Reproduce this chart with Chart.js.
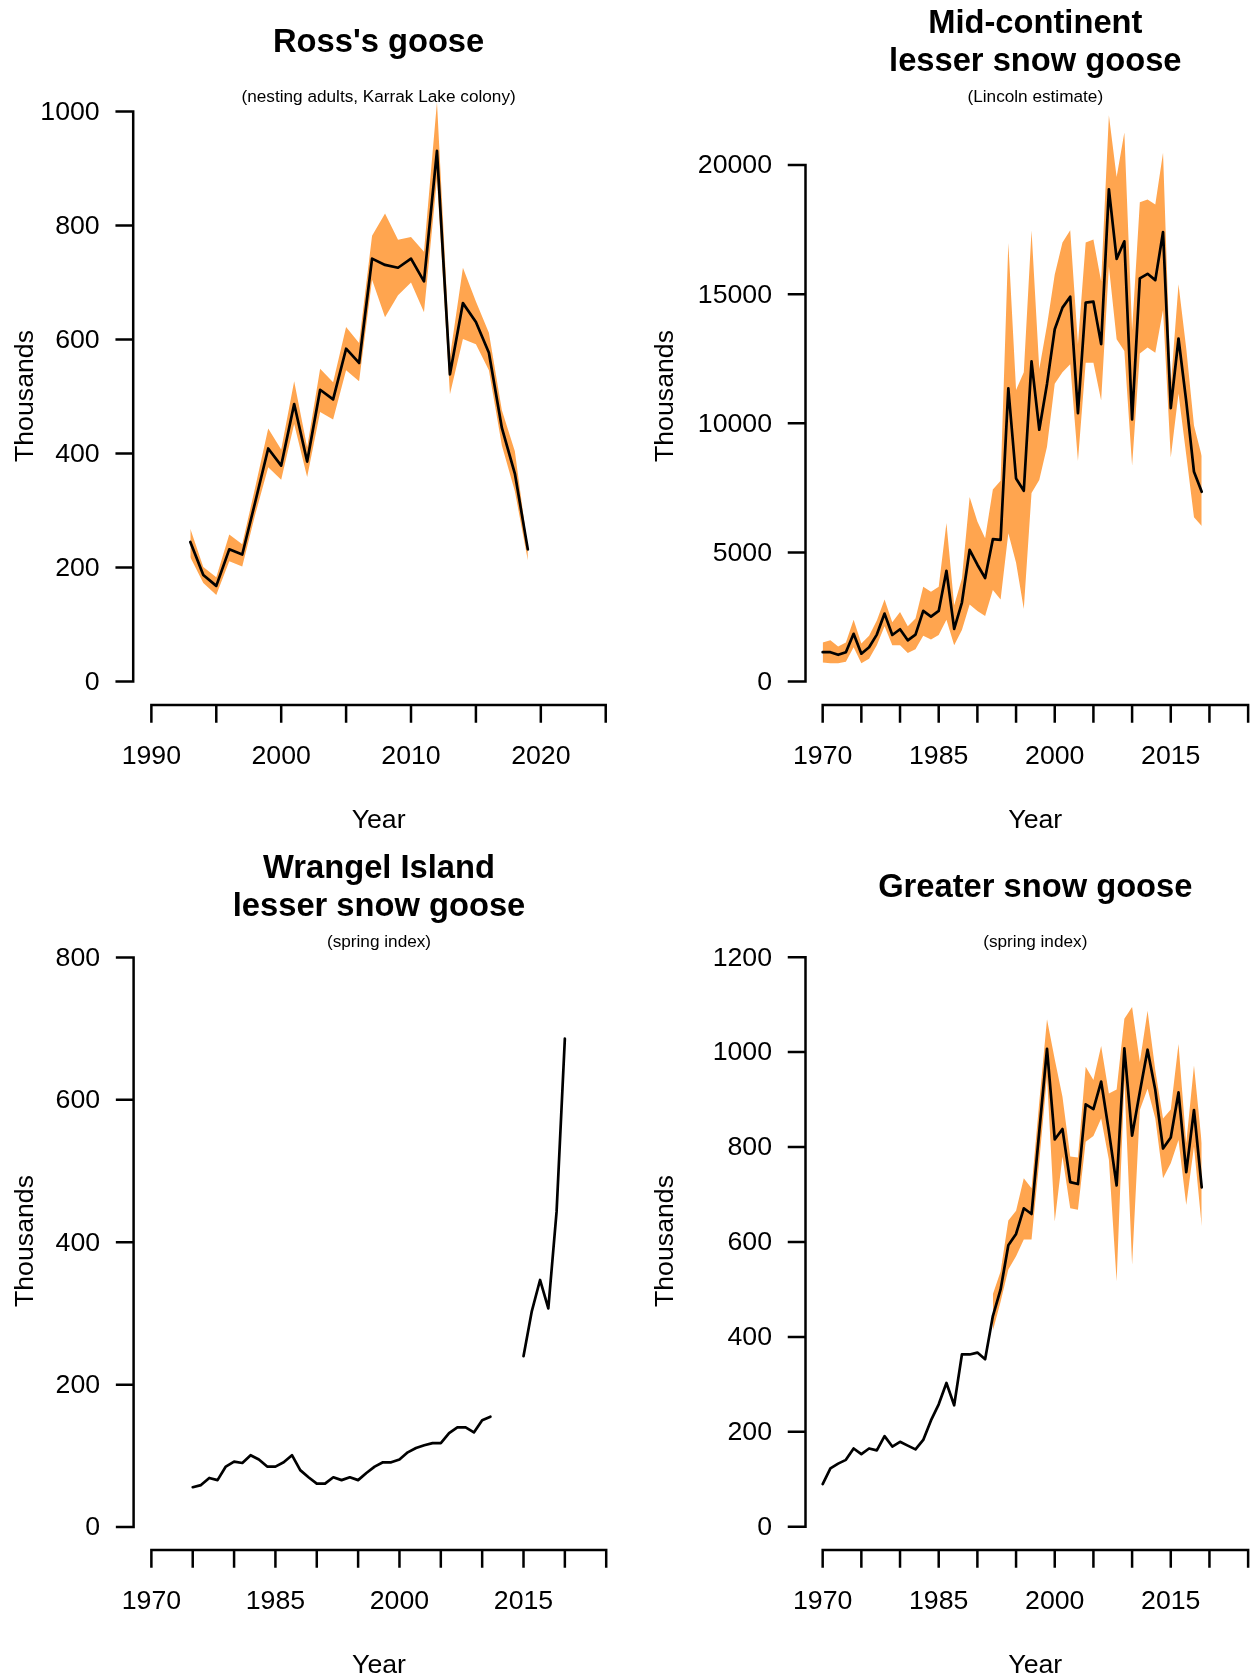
<!DOCTYPE html>
<html>
<head>
<meta charset="utf-8">
<script src="https://cdn.jsdelivr.net/npm/chart.js@4.4.1/dist/chart.umd.min.js"></script>
<style>
  html, body { margin: 0; padding: 0; background: #fff; }
  #page { position: relative; width: 1253px; height: 1678px; overflow: hidden; background: #fff; }
  #page canvas { position: absolute; }
</style>
</head>
<body>
<div id="page">
  <canvas id="ross" width="626" height="839" style="left:0px;top:0px"></canvas>
  <canvas id="midcon" width="627" height="839" style="left:626px;top:0px"></canvas>
  <canvas id="wrangel" width="626" height="839" style="left:0px;top:839px"></canvas>
  <canvas id="greater" width="627" height="839" style="left:626px;top:839px"></canvas>
</div>
<script>
// Goose population estimates (thousands)

// Ross's goose, nesting adults at Karrak Lake
var rossYears = [1993, 1994, 1995, 1996, 1997, 1998, 1999, 2000, 2001, 2002, 2003, 2004, 2005, 2006,
    2007, 2008, 2009, 2010, 2011, 2012, 2013, 2014, 2015, 2016, 2017, 2018, 2019];
var rossEst = [245, 187, 168, 232, 223, 315, 409, 379, 487, 386, 512, 495, 584, 559,
    742, 731, 726, 742, 702, 931, 539, 664, 631, 577, 445, 365, 232];
var rossLo = [218, 173, 152, 211, 202, 293, 376, 354, 452, 359, 473, 460, 546, 527,
    705, 639, 678, 700, 648, 882, 504, 601, 592, 546, 414, 334, 213];
var rossHi = [268, 201, 183, 258, 241, 341, 444, 407, 527, 411, 549, 525, 622, 594,
    782, 821, 775, 780, 754, 1017, 570, 726, 667, 612, 476, 404, 234];

// years shared by the mid-continent and greater snow goose series
var snowYears = [1970, 1971, 1972, 1973, 1974, 1975, 1976, 1977, 1978, 1979,
    1980, 1981, 1982, 1983, 1984, 1985, 1986, 1987, 1988, 1989,
    1990, 1991, 1992, 1993, 1994, 1995, 1996, 1997, 1998, 1999,
    2000, 2001, 2002, 2003, 2004, 2005, 2006, 2007, 2008, 2009,
    2010, 2011, 2012, 2013, 2014, 2015, 2016, 2017, 2018, 2019];

// Mid-continent lesser snow goose, Lincoln estimate
var midconEst = [1139, 1139, 1036, 1139, 1849, 1080, 1331, 1820, 2633, 1805,
    2027, 1598, 1820, 2737, 2515, 2737, 4290, 2041, 3062, 5102,
    4524, 4011, 5513, 5487, 11357, 7863, 7388, 12397, 9751, 11524,
    13643, 14478, 14901, 10394, 14670, 14709, 13065, 19062, 16365, 17046,
    10149, 15608, 15788, 15544, 17406, 10586, 13283, 10850, 8120, 7350];
var midconLo = [740, 710, 710, 769, 1331, 710, 888, 1405, 2145, 1405,
    1405, 1109, 1257, 1775, 1627, 1805, 2396, 1405, 1997, 2988,
    2737, 2544, 3550, 3180, 5744, 4600, 2811, 7300, 7800, 9090,
    11530, 11980, 12290, 8540, 12340, 12340, 10880, 16070, 13250, 12800,
    8370, 12700, 12930, 12730, 14390, 8680, 11150, 8770, 6360, 6020];
var midconHi = [1509, 1598, 1361, 1509, 2396, 1479, 1775, 2367, 3180, 2293,
    2692, 2145, 2441, 3669, 3476, 3669, 6139, 2959, 3994, 7150,
    6200, 5550, 7440, 7780, 16980, 11290, 11980, 17460, 12100, 13800,
    15760, 17000, 17470, 13060, 17000, 17120, 15490, 21930, 19540, 21260,
    13600, 18560, 18660, 18470, 20470, 11440, 15380, 12900, 9910, 8730];

// Wrangel Island lesser snow goose, spring index (no values 2012-2014)
var wrangelYears = [1975, 1976, 1977, 1978, 1979, 1980, 1981, 1982, 1983, 1984,
    1985, 1986, 1987, 1988, 1989, 1990, 1991, 1992, 1993, 1994,
    1995, 1996, 1997, 1998, 1999, 2000, 2001, 2002, 2003, 2004,
    2005, 2006, 2007, 2008, 2009, 2010, 2011, 2012, 2013, 2014,
    2015, 2016, 2017, 2018, 2019, 2020];
var wrangelEst = [56, 59, 69, 66, 85, 92, 90, 101, 95, 85,
    85, 91, 101, 80, 70, 61, 61, 70, 66, 70,
    66, 76, 85, 91, 91, 95, 105, 111, 115, 118,
    118, 132, 140, 140, 133, 150, 155, null, null, null,
    240, 303, 347, 307, 443, 686];

// Greater snow goose, spring index
var greaterEst = [90, 123, 133, 141, 165, 153, 165, 161, 191, 169,
    179, 171, 163, 183, 224, 258, 303, 256, 363, 363,
    367, 353, 444, 500, 593, 617, 671, 659, 833, 1007,
    816, 838, 726, 722, 890, 880, 938, 833, 719, 1008,
    824, 916, 1005, 920, 797, 820, 915, 747, 878, 715];
var greaterBandYears = [1992, 1993, 1994, 1995, 1996, 1997, 1998, 1999, 2000, 2001,
    2002, 2003, 2004, 2005, 2006, 2007, 2008, 2009, 2010, 2011,
    2012, 2013, 2014, 2015, 2016, 2017, 2018, 2019];
var greaterLo = [413, 474, 542, 570, 605, 605, 770, 948, 643, 780,
    671, 668, 811, 823, 860, 773, 517, 940, 552, 878,
    923, 860, 734, 766, 815, 678, 801, 633];
var greaterHi = [490, 538, 645, 666, 734, 713, 895, 1069, 985, 906,
    780, 778, 969, 941, 1013, 913, 921, 1070, 1095, 979,
    1087, 962, 860, 879, 1017, 808, 972, 808];

// axis ticks
var rossYTicks = [0, 200, 400, 600, 800, 1000];
var rossXTicks = [1990, 1995, 2000, 2005, 2010, 2015, 2020, 2025];
var rossXLabels = [1990, 2000, 2010, 2020];
var longXTicks = [1970, 1975, 1980, 1985, 1990, 1995, 2000, 2005, 2010, 2015, 2020, 2025];
var longXLabels = [1970, 1985, 2000, 2015];
var midconYTicks = [0, 5000, 10000, 15000, 20000];
var wrangelYTicks = [0, 200, 400, 600, 800];
var greaterYTicks = [0, 200, 400, 600, 800, 1000, 1200];

var FONT = '"Liberation Sans", Arial, Helvetica, sans-serif';
var ORANGE = '#FFA54F';

function pts(xs, ys) {
    return xs.map(function (x, i) { return { x: x, y: ys[i] }; });
}

// R style axes: lines only between the end ticks, labels and titles
function rAxes(p) {
    return {
        id: 'rAxes',
        afterDraw: function (chart) {
            var ctx = chart.ctx;
            var xs = chart.scales.x;
            var ys = chart.scales.y;
            var a = chart.chartArea;

            ctx.save();
            ctx.strokeStyle = '#000';
            ctx.fillStyle = '#000';
            ctx.lineWidth = 2.5;
            ctx.lineCap = 'square';

            ctx.beginPath();
            ctx.moveTo(a.left, ys.getPixelForValue(p.yTicks[0]));
            ctx.lineTo(a.left, ys.getPixelForValue(p.yTicks[p.yTicks.length - 1]));
            p.yTicks.forEach(function (v) {
                var y = ys.getPixelForValue(v);
                ctx.moveTo(a.left, y);
                ctx.lineTo(a.left - 16.5, y);
            });
            ctx.moveTo(xs.getPixelForValue(p.xTicks[0]), a.bottom);
            ctx.lineTo(xs.getPixelForValue(p.xTicks[p.xTicks.length - 1]), a.bottom);
            p.xTicks.forEach(function (v) {
                var x = xs.getPixelForValue(v);
                ctx.moveTo(x, a.bottom);
                ctx.lineTo(x, a.bottom + 16.5);
            });
            ctx.stroke();

            ctx.font = '26.7px ' + FONT;
            ctx.textBaseline = 'middle';
            ctx.textAlign = 'right';
            p.yTicks.forEach(function (v) {
                ctx.fillText(String(v), a.left - 33.5, ys.getPixelForValue(v) + 1);
            });
            ctx.textAlign = 'center';
            p.xLabels.forEach(function (v) {
                ctx.fillText(String(v), xs.getPixelForValue(v), a.bottom + 52);
            });
            ctx.fillText('Year', p.titleX - p.ox, a.bottom + 115.5);

            ctx.save();
            ctx.translate(p.ylabX - p.ox, p.ylabY - p.oy);
            ctx.rotate(-Math.PI / 2);
            ctx.fillText('Thousands', 0, 0);
            ctx.restore();

            ctx.font = 'bold 32.7px ' + FONT;
            ctx.textBaseline = 'alphabetic';
            p.title.forEach(function (t, i) {
                ctx.fillText(t, p.titleX - p.ox, p.titleBase[i] - p.oy);
            });
            ctx.font = '17.2px ' + FONT;
            ctx.textBaseline = 'middle';
            ctx.fillText(p.subtitle, p.titleX - p.ox, p.subY - p.oy);
            ctx.restore();
        }
    };
}

function lineSet(data) {
    return {
        data: data, borderColor: '#000', borderWidth: 2.7, pointRadius: 0,
        borderJoinStyle: 'round', borderCapStyle: 'round', tension: 0,
        fill: false, spanGaps: false, order: 0
    };
}

function bandSets(hi, lo) {
    return [
        { data: hi, borderColor: 'rgba(0,0,0,0)', borderWidth: 0, pointRadius: 0,
          backgroundColor: ORANGE, fill: '+1', tension: 0, order: 1 },
        { data: lo, borderColor: 'rgba(0,0,0,0)', borderWidth: 0, pointRadius: 0,
          fill: false, tension: 0, order: 2 }
    ];
}

// page geometry of each panel (absolute page pixels)
var panels = [
    {
        id: 'ross', ox: 0, oy: 0, w: 626, h: 839,
        area: { left: 133.2, right: 623.9, top: 60, bottom: 705 },
        x: { min: 1988.6, max: 2026.4 }, y: { min: -41.05, max: 1090.5 },
        yTicks: rossYTicks, xTicks: rossXTicks, xLabels: rossXLabels,
        title: ["Ross's goose"], titleBase: [52.3], titleX: 378.6,
        subtitle: '(nesting adults, Karrak Lake colony)', subY: 97,
        ylabX: 25.7, ylabY: 396,
        datasets: [lineSet(pts(rossYears, rossEst))].concat(
            bandSets(pts(rossYears, rossHi), pts(rossYears, rossLo)))
    },
    {
        id: 'midcon', ox: 626, oy: 0, w: 627, h: 839,
        area: { left: 805.5, right: 1253, top: 60, bottom: 705 },
        x: { min: 1967.78, max: 2025.63 }, y: { min: -906, max: 24065 },
        yTicks: midconYTicks, xTicks: longXTicks, xLabels: longXLabels,
        title: ['Mid-continent', 'lesser snow goose'], titleBase: [33.3, 71], titleX: 1035.3,
        subtitle: '(Lincoln estimate)', subY: 97.3,
        ylabX: 665.7, ylabY: 396,
        datasets: [lineSet(pts(snowYears, midconEst))].concat(
            bandSets(pts(snowYears, midconHi), pts(snowYears, midconLo)))
    },
    {
        id: 'wrangel', ox: 0, oy: 839, w: 626, h: 839,
        area: { left: 133.6, right: 624.4, top: 934.6, bottom: 1549.9 },
        x: { min: 1967.85, max: 2027.2 }, y: { min: -32, max: 832 },
        yTicks: wrangelYTicks, xTicks: longXTicks, xLabels: longXLabels,
        title: ['Wrangel Island', 'lesser snow goose'], titleBase: [877.8, 915.5], titleX: 379,
        subtitle: '(spring index)', subY: 941.8,
        ylabX: 25.7, ylabY: 1241,
        datasets: [lineSet(pts(wrangelYears, wrangelEst))]
    },
    {
        id: 'greater', ox: 626, oy: 839, w: 627, h: 839,
        area: { left: 805.5, right: 1253, top: 900, bottom: 1550 },
        x: { min: 1967.78, max: 2025.63 }, y: { min: -48.9, max: 1320.4 },
        yTicks: greaterYTicks, xTicks: longXTicks, xLabels: longXLabels,
        title: ['Greater snow goose'], titleBase: [896.8], titleX: 1035.3,
        subtitle: '(spring index)', subY: 941.8,
        ylabX: 665.7, ylabY: 1241,
        datasets: [lineSet(pts(snowYears, greaterEst))].concat(
            bandSets(pts(greaterBandYears, greaterHi), pts(greaterBandYears, greaterLo)))
    }
];

panels.forEach(function (p) {
    var ctx = document.getElementById(p.id).getContext('2d');
    new Chart(ctx, {
        type: 'line',
        data: { datasets: p.datasets },
        options: {
            responsive: false,
            animation: false,
            events: [],
            layout: {
                autoPadding: false,
                padding: {
                    left: p.area.left - p.ox,
                    top: p.area.top - p.oy,
                    right: p.ox + p.w - p.area.right,
                    bottom: p.oy + p.h - p.area.bottom
                }
            },
            scales: {
                x: { type: 'linear', min: p.x.min, max: p.x.max, display: false },
                y: { type: 'linear', min: p.y.min, max: p.y.max, display: false }
            },
            plugins: {
                legend: { display: false },
                tooltip: { enabled: false },
                title: { display: false }
            }
        },
        plugins: [rAxes(p)]
    });
});
</script>
</body>
</html>
